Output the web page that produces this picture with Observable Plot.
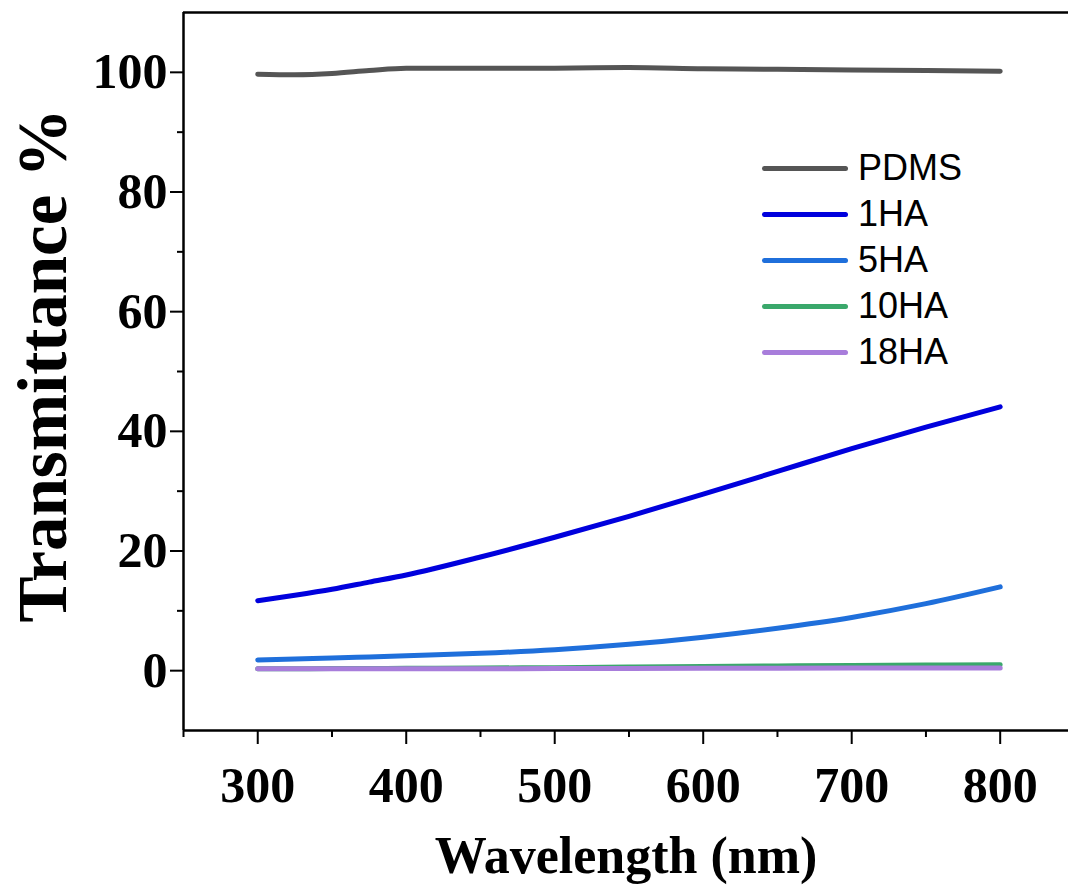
<!DOCTYPE html>
<html><head><meta charset="utf-8">
<script src="https://cdn.jsdelivr.net/npm/d3@7"></script>
<script src="https://cdn.jsdelivr.net/npm/@observablehq/plot@0.6"></script>
<style>
body{margin:0;background:#fff}
#wrap{position:relative;width:1068px;height:890px}
#legend{position:absolute;left:762px;top:145px;font-family:"Liberation Sans",Arial,sans-serif;font-size:36px;color:#000}
.row{display:flex;align-items:center;height:46px}
.sw{width:86px;height:5px;border-radius:3px;margin-right:10px}
</style></head><body><div id="wrap"><div id="legend"></div></div>
<script>
const wavelength = [300,325,350,375,400,450,500,550,600,650,700,750,800];
const seriesNames = ["PDMS","1HA","5HA","10HA","18HA"];
const seriesColors = ["#555555","#0000dd","#1f6fdb","#3aa86b","#a87ddb"];
const pdms  = [99.7,99.6,99.8,100.3,100.7,100.7,100.7,100.8,100.6,100.5,100.4,100.3,100.2];
const ha1   = [11.7,12.6,13.6,14.8,16.0,19.0,22.3,25.8,29.5,33.3,37.1,40.7,44.1];
const ha5   = [1.8,1.95,2.1,2.3,2.5,2.9,3.5,4.4,5.6,7.1,8.9,11.2,14.0];
const ha10  = [0.3,0.3,0.35,0.35,0.4,0.45,0.5,0.6,0.7,0.8,0.85,0.95,1.0];
const ha18  = [0.3,0.3,0.3,0.3,0.3,0.32,0.35,0.37,0.4,0.42,0.45,0.45,0.45];
const xMajor = [300,400,500,600,700,800];
const xMinor = [250,350,450,550,650,750];
const yMajor = [0,20,40,60,80,100];
const yMinor = [10,30,50,70,90];
const xDomain = [250,846];
const yDomain = [-10,110];
const xTitle = "Wavelength (nm)";
const yTitle = "Transmittance %";

const values = [pdms, ha1, ha5, ha10, ha18];
const data = [];
seriesNames.forEach((s,i)=>wavelength.forEach((w,j)=>data.push({series:s, w, t:values[i][j]})));

const serif = '"Liberation Serif","Times New Roman",serif';
const chart = Plot.plot({
  width:1068, height:890,
  marginLeft:183, marginRight:0, marginTop:12, marginBottom:160,
  style:{fontFamily:serif, background:"#fff", color:"#000", overflow:"visible"},
  x:{domain:xDomain}, y:{domain:yDomain},
  color:{domain:seriesNames, range:seriesColors},
  marks:[
    Plot.line(data,{x:"w", y:"t", z:"series", stroke:"series", strokeWidth:5, curve:"monotone-x"}),
    Plot.axisX({ticks:xMajor, tickSize:14, tickPadding:22, fontSize:50, fontWeight:"bold", strokeWidth:2, label:null}),
    Plot.axisX({ticks:xMinor, tickSize:7, tickFormat:()=>"", strokeWidth:2, label:null}),
    Plot.axisY({ticks:yMajor, tickSize:13, tickPadding:3, fontSize:50, fontWeight:"bold", strokeWidth:2, label:null}),
    Plot.axisY({ticks:yMinor, tickSize:6, tickFormat:()=>"", strokeWidth:2, label:null}),
    Plot.ruleX([xDomain[0]],{strokeWidth:2.5}),
    Plot.ruleY([yDomain[0]],{strokeWidth:2.5}),
    Plot.ruleY([yDomain[1]],{strokeWidth:2.5}),
    Plot.text([xTitle],{text:d=>d, frameAnchor:"bottom", lineAnchor:"bottom", dy:142, fontSize:52, fontWeight:"bold"}),
    Plot.text([yTitle],{text:d=>d, frameAnchor:"left", textAnchor:"middle", rotate:-90, dx:-140, dy:-6, fontSize:69, fontWeight:"bold"})
  ]
});
document.getElementById("wrap").prepend(chart);
const leg = document.getElementById("legend");
seriesNames.forEach((s,i)=>{
  const r=document.createElement("div");r.className="row";
  const sw=document.createElement("div");sw.className="sw";sw.style.background=seriesColors[i];
  const t=document.createElement("span");t.textContent=s;
  r.append(sw,t);leg.append(r);
});
</script></body></html>
